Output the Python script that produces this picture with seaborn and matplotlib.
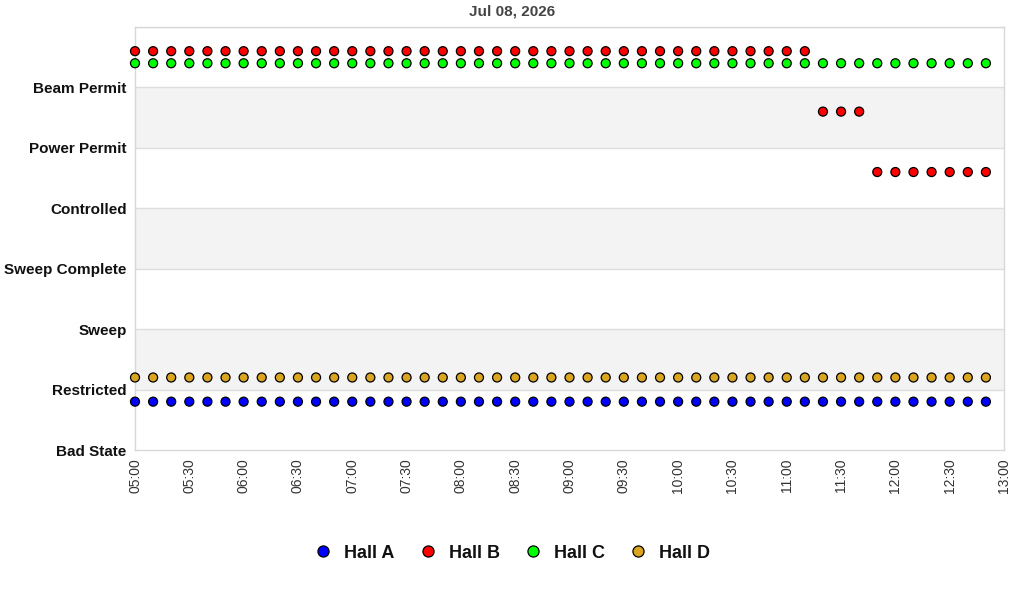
import matplotlib
matplotlib.use("Agg")
import matplotlib.pyplot as plt
import matplotlib.dates as mdates
import seaborn as sns
import pandas as pd
from matplotlib.lines import Line2D

# ---- data ----
title = "Jul 08, 2026"
states = ["Bad State", "Restricted", "Sweep", "Sweep Complete",
          "Controlled", "Power Permit", "Beam Permit"]
times = ["05:00", "05:10", "05:20", "05:30", "05:40", "05:50",
         "06:00", "06:10", "06:20", "06:30", "06:40", "06:50",
         "07:00", "07:10", "07:20", "07:30", "07:40", "07:50",
         "08:00", "08:10", "08:20", "08:30", "08:40", "08:50",
         "09:00", "09:10", "09:20", "09:30", "09:40", "09:50",
         "10:00", "10:10", "10:20", "10:30", "10:40", "10:50",
         "11:00", "11:10", "11:20", "11:30", "11:40", "11:50",
         "12:00", "12:10", "12:20", "12:30", "12:40", "12:50"]
hall_a = ["Restricted"] * 48
hall_b = ["Beam Permit"] * 38 + ["Power Permit"] * 3 + ["Controlled"] * 7
hall_c = ["Beam Permit"] * 48
hall_d = ["Restricted"] * 48
halls = ["Hall A", "Hall B", "Hall C", "Hall D"]
colors = ["#0000FF", "#FF0000", "#00FF00", "#DAA520"]

# vertical placement of each hall inside a state band (styling)
offsets = {"Hall A": -0.2, "Hall B": 0.6, "Hall C": 0.4, "Hall D": 0.2}

rows = []
for hall, series in zip(halls, [hall_a, hall_b, hall_c, hall_d]):
    for t, s in zip(times, series):
        rows.append({"time": pd.Timestamp("2026-07-08 " + t),
                     "hall": hall,
                     "level": states.index(s) + offsets[hall]})
df = pd.DataFrame(rows)

# ---- plot ----
sns.set_theme(style="white")
plt.rcParams["font.family"] = ["Liberation Sans", "DejaVu Sans"]

fig = plt.figure(figsize=(10.24, 6.0), dpi=100)
ax = fig.add_axes([135 / 1024, 1 - 450 / 600, (1004 - 135) / 1024, (450 - 27) / 600])

# alternating bands
for i in range(len(states)):
    if i % 2 == 1:
        ax.axhspan(i, i + 1, color="#F3F3F3", zorder=0, lw=0)
for i in range(1, len(states) + 1):
    ax.axhline(i, color="#DDDDDD", lw=1, zorder=0.5)

sns.scatterplot(data=df, x="time", y="level", hue="hall", hue_order=halls,
                palette=colors, marker="o", s=42, edgecolor="black",
                linewidth=0.9, ax=ax, legend=False, zorder=3, clip_on=False)

ax.set_ylim(0, 7)
ax.set_yticks(range(len(states)))
ax.set_yticklabels(states, fontweight="bold", fontsize=11, color="#111111")
ax.set_xlim(pd.Timestamp("2026-07-08 05:00"), pd.Timestamp("2026-07-08 13:00"))
ax.xaxis.set_major_locator(mdates.MinuteLocator(byminute=[0, 30]))
ax.xaxis.set_major_formatter(mdates.DateFormatter("%H:%M"))
plt.setp(ax.get_xticklabels(), rotation=90, fontsize=10, color="#333333")
ax.tick_params(axis="both", length=0, pad=6)
ax.set_xlabel("")
ax.set_ylabel("")
for sp in ax.spines.values():
    sp.set_color("#D8D8D8")
    sp.set_linewidth(1)

fig.text(0.5, 1 - 12 / 600, title, ha="center", va="center",
         fontsize=11, fontweight="bold", color="#444444")

handles = [Line2D([0], [0], marker="o", ls="", markerfacecolor=c,
                  markeredgecolor="black", markersize=8, markeredgewidth=0.9)
           for c in colors]
leg = fig.legend(handles, halls, loc="center", bbox_to_anchor=(0.5, 1 - 553 / 600),
                 ncol=4, frameon=False, prop={"weight": "bold", "size": 13},
                 handlelength=1.0, handletextpad=0.65, columnspacing=1.35)
for t in leg.get_texts():
    t.set_color("#111111")

fig.savefig("out.png", dpi=100)
